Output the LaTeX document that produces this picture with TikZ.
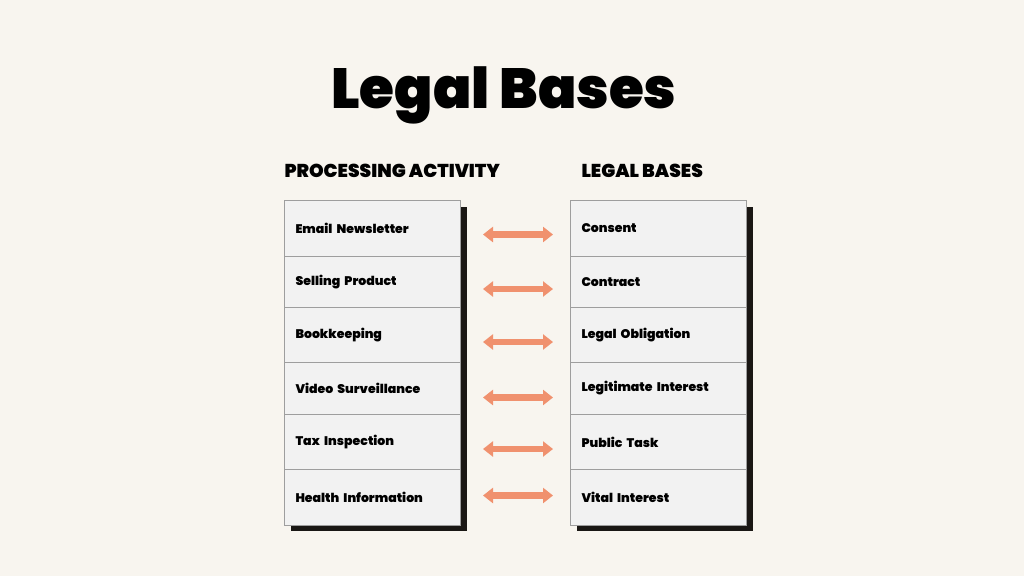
\documentclass[tikz,border=0pt]{standalone}
\usepackage{fontspec}
\setmainfont{Poppins}
\newfontfamily\heavy{Poppins Black}
\usetikzlibrary{arrows.meta}
\definecolor{bg}{HTML}{F8F5EF}
\definecolor{cellfill}{HTML}{F2F2F2}
\definecolor{cellline}{HTML}{9E9E9E}
\definecolor{shadow}{HTML}{1A1714}
\definecolor{arrowc}{HTML}{F0916E}
\tikzset{
  cell/.style={draw=cellline, line width=1pt, fill=cellfill, anchor=north west,
    minimum width=176pt, text width=154pt, align=left, inner xsep=11pt, inner ysep=0pt,
    font=\heavy\fontsize{12.5}{14}\selectfont},
  head/.style={anchor=west, font=\heavy\fontsize{18.6}{22}\selectfont},
  link/.style={arrowc, line width=6.5pt, {Triangle[width=15pt,length=10pt]}-{Triangle[width=15pt,length=10pt]}, shorten <=22pt, shorten >=17pt}
}
\begin{document}
\begin{tikzpicture}[x=1pt,y=-1pt]
\fill[bg] (0,0) rectangle (1024,576);
\useasboundingbox (0,0) rectangle (1024,576);
\node[font=\heavy\fontsize{56.5}{60}\selectfont] (title) at (504,95) {Legal Bases};
\node[head] (hl) at (281,171) {PROCESSING ACTIVITY};
\node[head] (hr) at (578,171) {LEGAL BASES};
% shadows
\fill[shadow] (291,207) rectangle (467,531);
\fill[shadow] (577,207) rectangle (753,531);
% left column
\node[cell, minimum height=56pt] (L1) at (284,200) {Email Newsletter};
\node[cell, minimum height=51pt] (L2) at (284,256) {\raisebox{-2.5pt}{Selling Product}};
\node[cell, minimum height=55pt] (L3) at (284,307) {\raisebox{-2pt}{Bookkeeping}};
\node[cell, minimum height=52pt] (L4) at (284,362) {\raisebox{-2pt}{Video Surveillance}};
\node[cell, minimum height=55pt] (L5) at (284,414) {\raisebox{-2pt}{Tax Inspection}};
\node[cell, minimum height=56pt] (L6) at (284,469) {Health Information};
% right column
\node[cell, minimum height=56pt] (R1) at (570,200) {Consent};
\node[cell, minimum height=51pt] (R2) at (570,256) {\raisebox{-2.5pt}{Contract}};
\node[cell, minimum height=55pt] (R3) at (570,307) {\raisebox{-2pt}{Legal Obligation}};
\node[cell, minimum height=52pt] (R4) at (570,362) {\raisebox{-2pt}{Legitimate Interest}};
\node[cell, minimum height=55pt] (R5) at (570,414) {\raisebox{-2pt}{Public Task}};
\node[cell, minimum height=56pt] (R6) at (570,469) {Vital Interest};
% arrows
\draw[link] ([yshift=-6pt]L1.east) -- ([yshift=-6pt]R1.west);
\draw[link] ([yshift=-7pt]L2.east) -- ([yshift=-7pt]R2.west);
\draw[link] ([yshift=-7pt]L3.east) -- ([yshift=-7pt]R3.west);
\draw[link] ([yshift=-9pt]L4.east) -- ([yshift=-9pt]R4.west);
\draw[link] ([yshift=-7pt]L5.east) -- ([yshift=-7pt]R5.west);
\draw[link] ([yshift=2pt]L6.east) -- ([yshift=2pt]R6.west);
\end{tikzpicture}
\end{document}
